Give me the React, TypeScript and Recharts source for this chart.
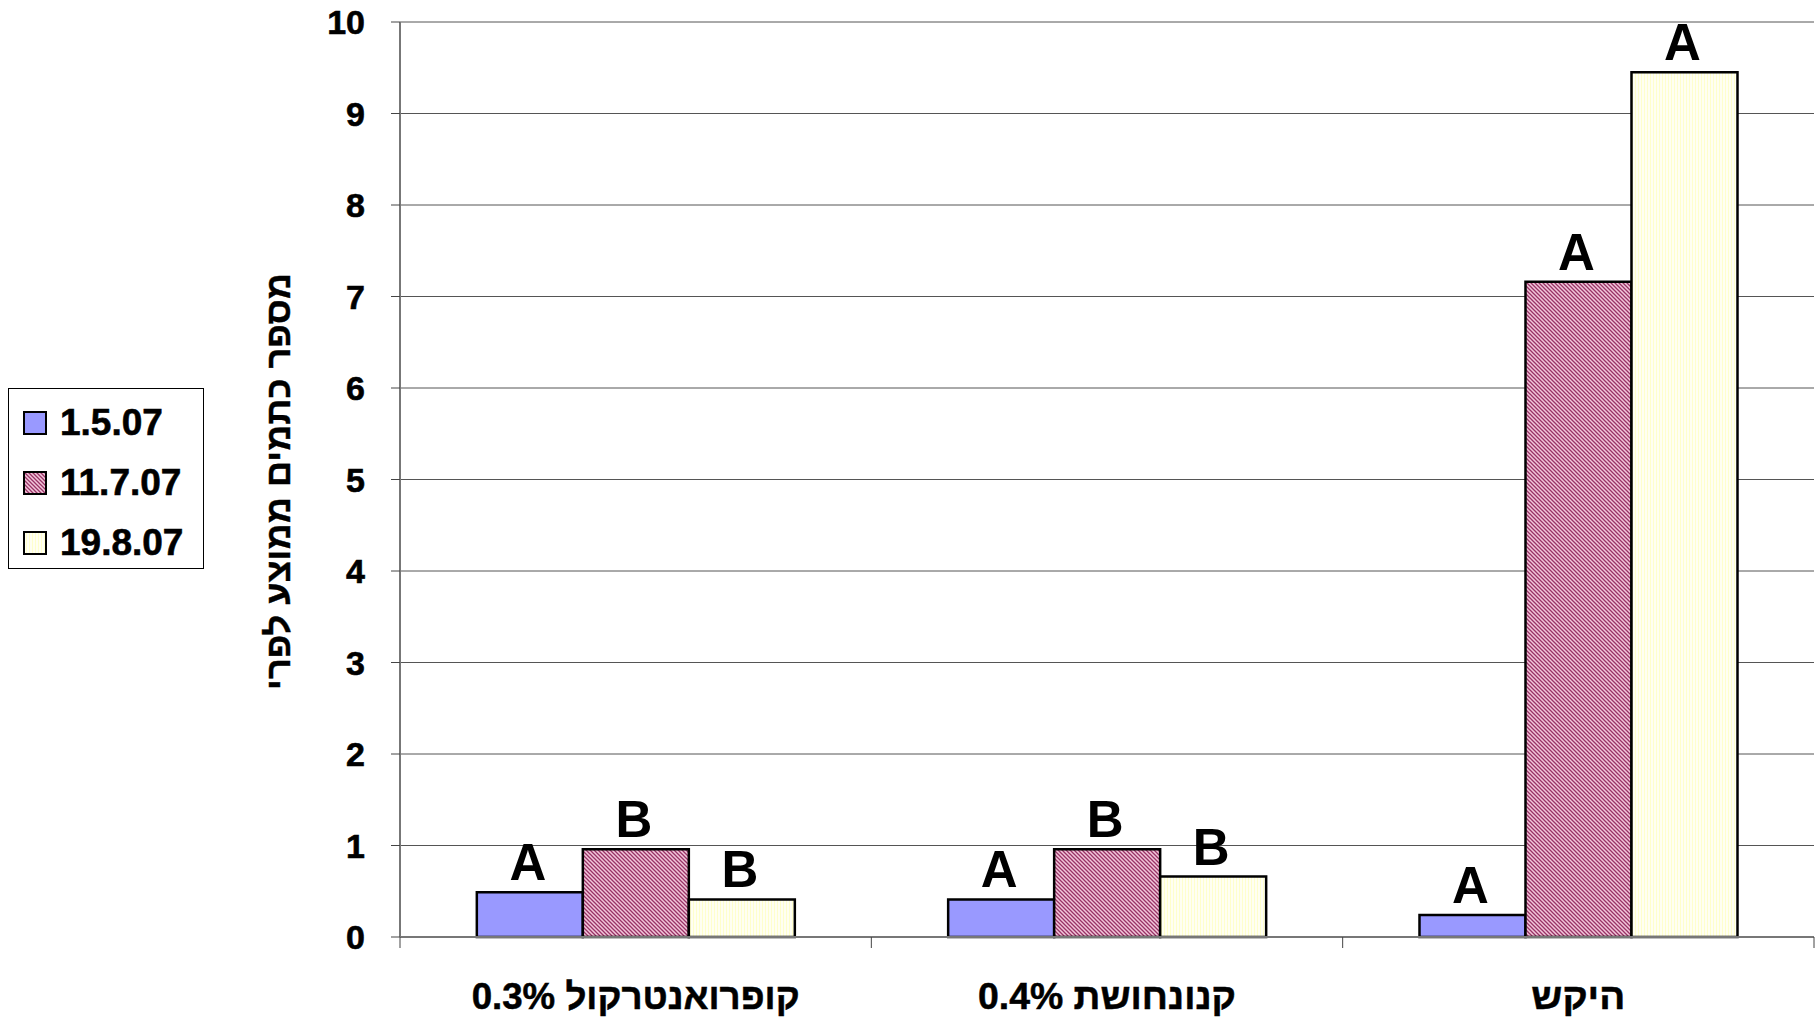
import { BarChart, Bar, XAxis, YAxis, CartesianGrid, LabelList, Label } from "recharts";

// categories (treatments) and sampling dates
const categories = ["קופרואנטרקול 0.3%", "קנונחושת 0.4%", "היקש"];
const seriesNames = ["1.5.07", "11.7.07", "19.8.07"];

// mean number of spots per fruit
const d1 = [0.49, 0.41, 0.24];
const d2 = [0.96, 0.96, 7.16];
const d3 = [0.41, 0.66, 9.45];

// significance letters
const l1 = ["A", "A", "A"];
const l2 = ["B", "B", "A"];
const l3 = ["B", "B", "A"];

const yTicks = [0, 1, 2, 3, 4, 5, 6, 7, 8, 9, 10];
const yTitle = "מספר כתמים ממוצע לפרי";

const data = categories.map((name, i) => ({
  name,
  s1: d1[i],
  s2: d2[i],
  s3: d3[i],
  l1: l1[i],
  l2: l2[i],
  l3: l3[i],
}));

const fills = ["#9999ff", "url(#hatchPink)", "url(#stripeYellow)"];

// rough label widths so the narrow bold look of the original is kept
const xLabelWidths = [328, 258, 94];

const XTick = ({ x, y, payload, index }: any) => {
  const half = payload.offset || 0;
  return (
    <g>
      <line x1={x - half} y1={y - 8} x2={x - half} y2={y + 3} stroke="#444" strokeWidth={1} />
      {index === categories.length - 1 && (
        <line x1={x + half} y1={y - 8} x2={x + half} y2={y + 3} stroke="#444" strokeWidth={1} />
      )}
      <text
        x={x}
        y={y + 54}
        textAnchor="middle"
        direction="rtl"
        dominantBaseline="middle"
        fontFamily="'Liberation Sans', Arial, sans-serif"
        fontWeight="bold"
        fontSize={37}
        textLength={xLabelWidths[index]}
        lengthAdjust="spacingAndGlyphs"
        stroke="#000"
        strokeWidth={0.5}
        fill="#000"
      >
        {payload.value}
      </text>
    </g>
  );
};

const LetterLabel = (props: any) => {
  const { x, y, width, value } = props;
  return (
    <text
      x={x + width / 2 - 2}
      y={y - 12}
      textAnchor="middle"
      fontFamily="'Liberation Sans', Arial, sans-serif"
      fontWeight="bold"
      fontSize={51}
      fill="#000"
    >
      {value}
    </text>
  );
};

export default function App() {
  return (
    <div style={{ position: "absolute", left: 0, top: 0, width: 1818, height: 1024, background: "#fff" }}>
      <BarChart
        width={1818}
        height={1024}
        data={data}
        margin={{ top: 22, right: 4, left: 0, bottom: 0 }}
        barCategoryGap="16.3%"
        barGap={0}
      >
        <defs>
          <pattern id="hatchPink" width="4" height="4" patternUnits="userSpaceOnUse">
            <rect width="4" height="4" fill="#f2c6da" />
            <path d="M0,0 L4,4 M-1,3 L1,5 M3,-1 L5,1" stroke="#993366" strokeWidth={1.3} />
          </pattern>
          <pattern id="stripeYellow" width="3" height="4" patternUnits="userSpaceOnUse">
            <rect width="3" height="4" fill="#fffff2" />
            <line x1="0.5" y1="0" x2="0.5" y2="4" stroke="#ffffcc" strokeWidth={1} />
          </pattern>
        </defs>
        <CartesianGrid horizontal vertical={false} stroke="#555" strokeWidth={1} />
        <XAxis
          dataKey="name"
          height={87}
          axisLine={{ stroke: "#777", strokeWidth: 2 }}
          tickLine={false}
          tick={<XTick />}
          interval={0}
        />
        <YAxis
          width={400}
          domain={[0, 10]}
          ticks={yTicks}
          interval={0}
          tickSize={9}
          tickMargin={26}
          axisLine={{ stroke: "#777", strokeWidth: 2 }}
          tickLine={{ stroke: "#444" }}
          tick={{
            fill: "#000",
            stroke: "#000",
            strokeWidth: 0.6,
            fontSize: 34,
            fontWeight: "bold",
            fontFamily: "'Liberation Sans', Arial, sans-serif",
          }}
        >
          <Label
            content={({ viewBox }: any) => {
              const cx = 281;
              const cy = viewBox.y + viewBox.height / 2 + 2;
              return (
                <text
                  x={cx}
                  y={cy}
                  transform={`rotate(-90, ${cx}, ${cy})`}
                  textAnchor="middle"
                  dominantBaseline="middle"
                  direction="rtl"
                  fontFamily="'Liberation Sans', Arial, sans-serif"
                  fontWeight="bold"
                  fontSize={34}
                  textLength={417}
                  lengthAdjust="spacingAndGlyphs"
                  stroke="#000"
                  strokeWidth={0.4}
                  fill="#000"
                >
                  {yTitle}
                </text>
              );
            }}
          />
        </YAxis>
        <Bar dataKey="s1" fill={fills[0]} stroke="#000" strokeWidth={2.5} isAnimationActive={false}>
          <LabelList dataKey="l1" content={<LetterLabel />} />
        </Bar>
        <Bar dataKey="s2" fill={fills[1]} stroke="#000" strokeWidth={2.5} isAnimationActive={false}>
          <LabelList dataKey="l2" content={<LetterLabel />} />
        </Bar>
        <Bar dataKey="s3" fill={fills[2]} stroke="#000" strokeWidth={2.5} isAnimationActive={false}>
          <LabelList dataKey="l3" content={<LetterLabel />} />
        </Bar>
      </BarChart>
      <div
        style={{
          position: "absolute",
          left: 8,
          top: 388,
          width: 196,
          height: 181,
          border: "1px solid #000",
          boxSizing: "border-box",
          background: "#fff",
          fontFamily: "'Liberation Sans', Arial, sans-serif",
          fontWeight: "bold",
          fontSize: 37,
          WebkitTextStroke: "0.6px #000",
        }}
      >
        {seriesNames.map((s, i) => (
          <div
            key={s}
            style={{ position: "absolute", left: 14, top: 15 + i * 60, height: 38, display: "flex", alignItems: "center" }}
          >
            <svg width={24} height={24} style={{ marginRight: 13 }}>
              <rect x={1} y={1} width={22} height={22} fill={fills[i]} stroke="#000" strokeWidth={2} />
            </svg>
            <span style={{ lineHeight: "38px" }}>{s}</span>
          </div>
        ))}
      </div>
    </div>
  );
}
